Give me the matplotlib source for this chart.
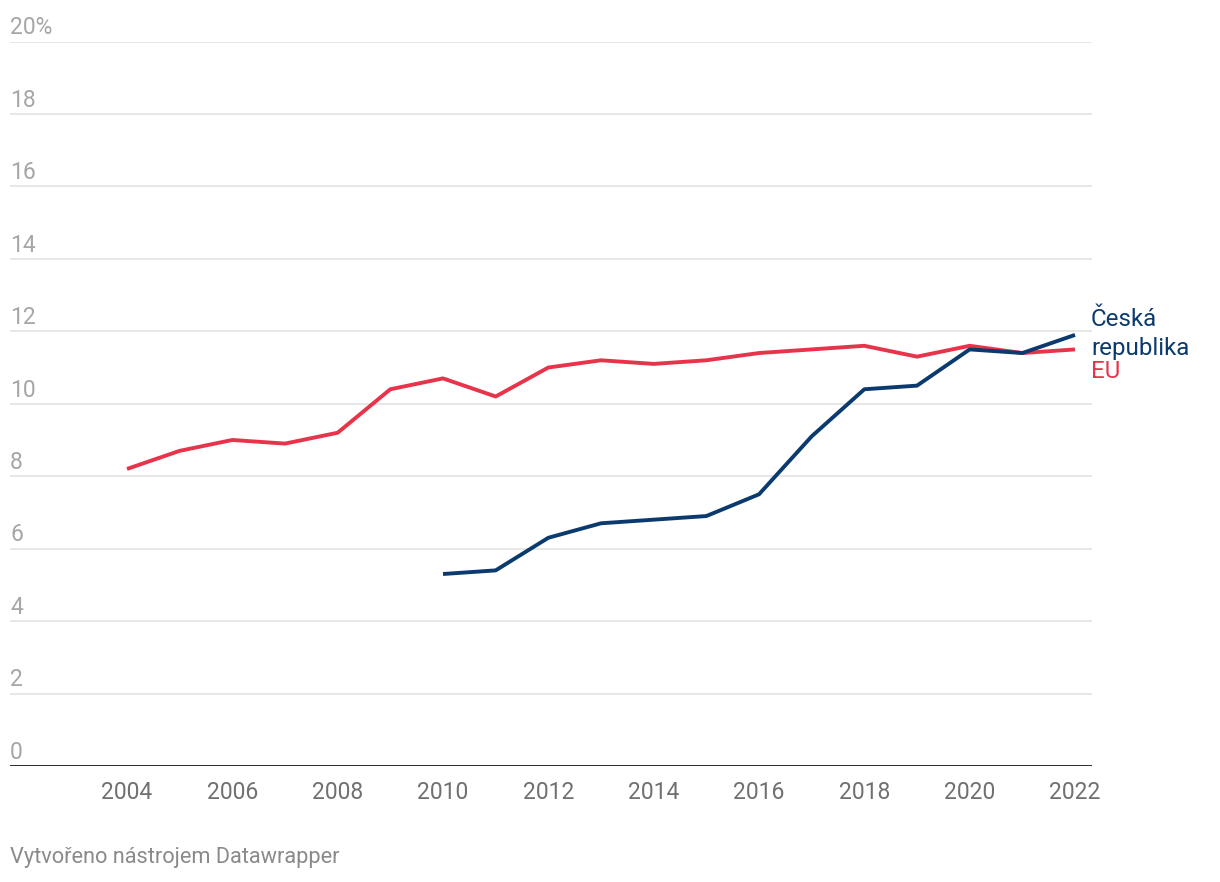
import matplotlib.pyplot as plt

plt.rcParams['font.family'] = ['Roboto', 'DejaVu Sans']

# data
years_eu = list(range(2004, 2023))
eu = [8.2, 8.7, 9.0, 8.9, 9.2, 10.4, 10.7, 10.2, 11.0, 11.2, 11.1, 11.2,
      11.4, 11.5, 11.6, 11.3, 11.6, 11.4, 11.5]

years_cz = list(range(2010, 2023))
cz = [5.3, 5.4, 6.3, 6.7, 6.8, 6.9, 7.5, 9.1, 10.4, 10.5, 11.5, 11.4, 11.9]

y_ticks = [0, 2, 4, 6, 8, 10, 12, 14, 16, 18, 20]
y_labels = ['0', '2', '4', '6', '8', '10', '12', '14', '16', '18', '20%']
x_ticks = list(range(2004, 2023, 2))

RED = '#e8344a'
NAVY = '#0b3b6e'

W, H = 1220, 882
fig = plt.figure(figsize=(W / 100, H / 100), dpi=100)
ax = fig.add_axes([10 / W, (H - 766) / H, (1092 - 10) / W, (766 - 41.5) / H])

px_per_year = (1075 - 127) / 18
ax.set_xlim(2004 - (127 - 10) / px_per_year, 2004 + (1092 - 127) / px_per_year)
ax.set_ylim(0, 20)

# gridlines
for t in y_ticks[1:]:
    ax.axhline(t, color='#e3e3e3', lw=1.2, zorder=1)
ax.axhline(0, color='#1a1a1a', lw=2.0, zorder=3)

ax.plot(years_eu, eu, color=RED, lw=2.8, solid_capstyle='butt', zorder=4)
ax.plot(years_cz, cz, color=NAVY, lw=2.8, solid_capstyle='butt', zorder=5)

# y labels sit above gridlines, left aligned
for t, lab in zip(y_ticks, y_labels):
    ax.text(0, t + 0.2, lab, transform=ax.get_yaxis_transform(),
            ha='left', va='baseline', fontsize=16.5, color='#a6a6a6')

ax.set_yticks([])
ax.set_xticks(x_ticks)
ax.set_xticklabels([str(x) for x in x_ticks], fontsize=16.5, color='#707070')
ax.tick_params(axis='x', length=0, pad=11)
for s in ax.spines.values():
    s.set_visible(False)

# line labels
fig.text(1091 / W, 1 - 320 / H, 'Česká', color=NAVY, fontsize=17.4, ha='left', va='center')
fig.text(1091 / W, 1 - 348 / H, 'republika', color=NAVY, fontsize=17.4, ha='left', va='center')
fig.text(1091 / W, 1 - 372 / H, 'EU', color=RED, fontsize=17.4, ha='left', va='center')

fig.text(10 / W, 1 - 858 / H, 'Vytvořeno nástrojem Datawrapper', color='#8a8a8a',
         fontsize=15.7, ha='left', va='center')

fig.savefig('out.png', dpi=100, facecolor='white')
